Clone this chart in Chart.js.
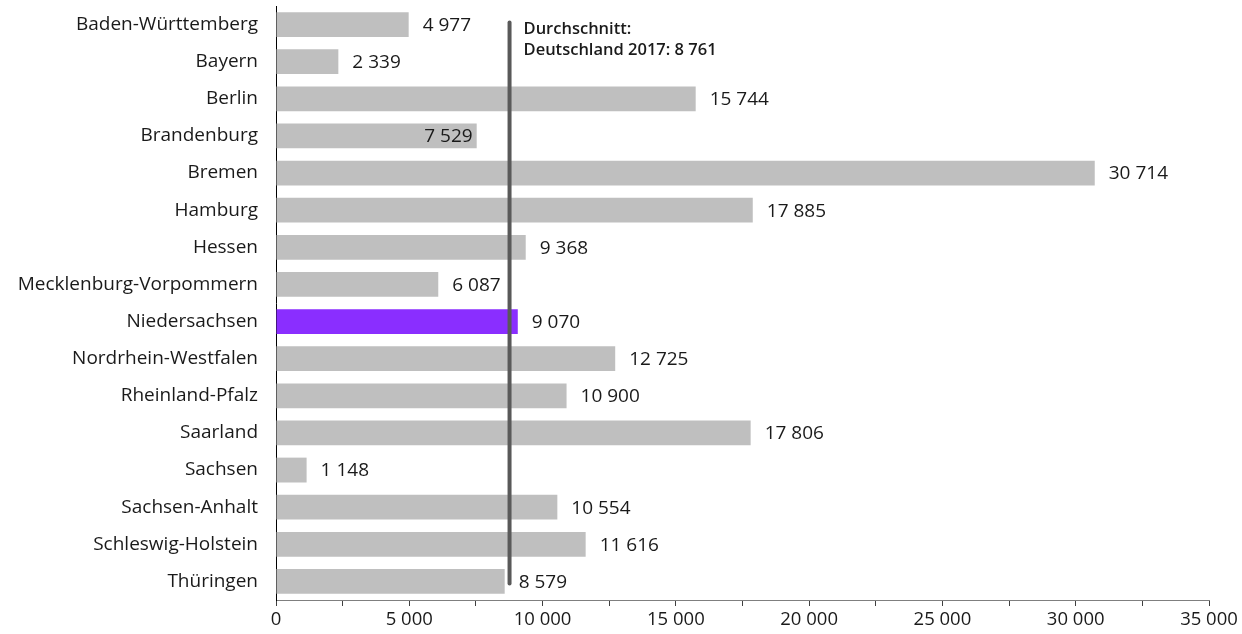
<!DOCTYPE html>
<html>
<head>
<meta charset="utf-8">
<script src="https://cdn.jsdelivr.net/npm/chart.js@4"></script>
<style>
  html, body { margin: 0; padding: 0; background: #fff; }
  #wrap { width: 1242px; height: 634px; position: relative; }
</style>
</head>
<body>
<div id="wrap"><canvas id="c"></canvas></div>
<script>
// Bundesländer and their values for 2017
const categories = [
  'Baden-Württemberg', 'Bayern', 'Berlin', 'Brandenburg', 'Bremen', 'Hamburg',
  'Hessen', 'Mecklenburg-Vorpommern', 'Niedersachsen', 'Nordrhein-Westfalen',
  'Rheinland-Pfalz', 'Saarland', 'Sachsen', 'Sachsen-Anhalt',
  'Schleswig-Holstein', 'Thüringen'
];
const values = [
  4977, 2339, 15744, 7529, 30714, 17885, 9368, 6087, 9070, 12725,
  10900, 17806, 1148, 10554, 11616, 8579
];
const highlighted = ['Niedersachsen'];
const labelsInside = ['Brandenburg'];
const average = 8761;
const averageLabel = ['Durchschnitt:', 'Deutschland 2017: 8 761'];
const xMax = 35000;

const FONT = '"Open Sans", "Noto Sans", sans-serif';
const TEXT = '#1a1a1a';

// thousands separated by a space: 30714 -> "30 714"
function fmt(v) {
  return String(Math.round(v)).replace(/\B(?=(\d{3})+(?!\d))/g, ' ');
}

// Value labels at the bar ends and the national average line
const overlay = {
  id: 'overlay',
  afterDatasetsDraw(chart) {
    const ctx = chart.ctx;
    const xs = chart.scales.x, ys = chart.scales.y;
    const meta = chart.getDatasetMeta(0);

    ctx.save();
    ctx.font = '19px ' + FONT;
    ctx.fillStyle = TEXT;
    ctx.textBaseline = 'middle';
    meta.data.forEach((bar, i) => {
      const txt = fmt(values[i]);
      if (labelsInside.includes(categories[i])) {
        ctx.textAlign = 'right';
        ctx.fillText(txt, bar.x - 4, bar.y + 1);
      } else {
        ctx.textAlign = 'left';
        ctx.fillText(txt, bar.x + 14, bar.y + 1);
      }
    });

    // average line from first to last category
    const ax = xs.getPixelForValue(average);
    ctx.strokeStyle = '#595959';
    ctx.lineWidth = 4;
    ctx.lineCap = 'round';
    ctx.beginPath();
    ctx.moveTo(ax, ys.getPixelForValue(0) - 2);
    ctx.lineTo(ax, ys.getPixelForValue(categories.length - 1) + 2);
    ctx.stroke();

    ctx.font = '600 16.5px ' + FONT;
    ctx.textAlign = 'left';
    ctx.fillStyle = TEXT;
    ctx.fillText(averageLabel[0], ax + 14, 29);
    ctx.fillText(averageLabel[1], ax + 14, 50);
    ctx.restore();
  }
};

new Chart(document.getElementById('c'), {
  type: 'bar',
  data: {
    labels: categories,
    datasets: [{
      data: values,
      backgroundColor: categories.map(c => highlighted.includes(c) ? '#8a2eff' : '#bfbfbf'),
      borderWidth: 0,
      categoryPercentage: 1,
      barPercentage: 0.67
    }]
  },
  options: {
    indexAxis: 'y',
    responsive: true,
    maintainAspectRatio: false,
    animation: false,
    layout: { padding: { top: 6, right: 33, bottom: 0, left: 0 } },
    plugins: { legend: { display: false }, tooltip: { enabled: false } },
    scales: {
      x: {
        min: 0,
        max: xMax,
        afterFit(s) { s.height = 34; },
        ticks: {
          stepSize: 2500,
          autoSkip: false,
          maxRotation: 0,
          padding: 3,
          color: TEXT,
          font: { family: FONT, size: 18.5 },
          callback: v => (v % 5000 === 0 ? fmt(v) : '')
        },
        grid: {
          drawOnChartArea: false,
          drawTicks: true,
          tickLength: 6,
          color: '#404040'
        },
        border: { display: true, color: '#7f7f7f', width: 1 }
      },
      y: {
        afterFit(s) {
          s.width = 276;
          s.paddingTop = 0;
          s.paddingBottom = 0;
        },
        ticks: {
          color: TEXT,
          padding: 18,
          font: { family: FONT, size: 19 }
        },
        grid: { display: false, drawTicks: false },
        border: { display: true, color: '#000', width: 1 }
      }
    }
  },
  plugins: [overlay]
});
</script>
</body>
</html>
